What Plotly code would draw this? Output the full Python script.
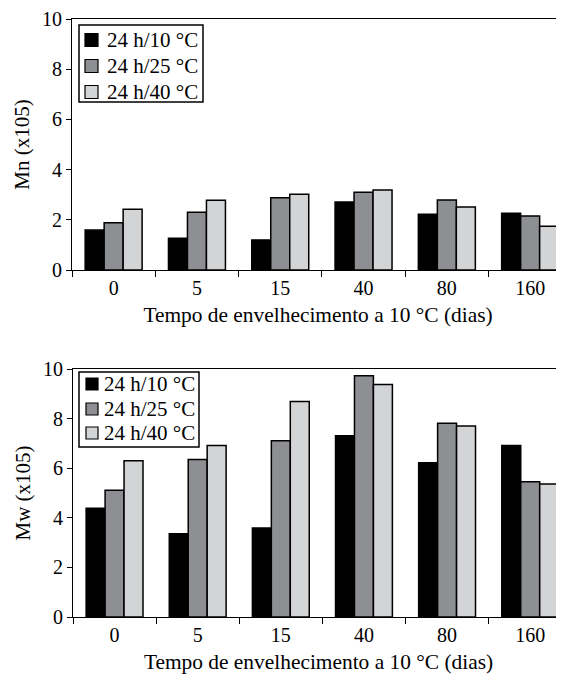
import plotly.graph_objects as go

categories = ["0", "5", "15", "40", "80", "160"]
series_names = ["24 h/10 °C", "24 h/25 °C", "24 h/40 °C"]
mn_10 = [1.59, 1.26, 1.20, 2.71, 2.22, 2.26]
mn_25 = [1.88, 2.30, 2.88, 3.10, 2.79, 2.15]
mn_40 = [2.42, 2.78, 3.02, 3.19, 2.51, 1.74]
mw_10 = [4.39, 3.36, 3.59, 7.31, 6.22, 6.92]
mw_25 = [5.11, 6.35, 7.11, 9.73, 7.81, 5.45]
mw_40 = [6.30, 6.92, 8.69, 9.37, 7.70, 5.36]
colors = ["#000000", "#8e8f93", "#d3d4d6"]
x_title = "Tempo de envelhecimento a 10 °C (dias)"
y_titles = ["Mn (x105)", "Mw (x105)"]

FONT = "Liberation Serif, Times New Roman, serif"
OFF = 8                      # page body margin of the browser
W, H = 564 - OFF, 676 - OFF
T, B = 19 - OFF, 59
PH = H - T - B

def fx(p):
    return (p - OFF) / W

def fy(p):
    return (H - B - (p - OFF)) / PH

fig = go.Figure()
for name, vals, c in zip(series_names, [mn_10, mn_25, mn_40], colors):
    fig.add_trace(go.Bar(x=categories, y=vals, name=name, showlegend=False,
                         marker=dict(color=c, line=dict(color="black", width=1.5)),
                         xaxis="x", yaxis="y"))
for name, vals, c in zip(series_names, [mw_10, mw_25, mw_40], colors):
    fig.add_trace(go.Bar(x=categories, y=vals, name=name, showlegend=False,
                         marker=dict(color=c, line=dict(color="black", width=1.5)),
                         xaxis="x2", yaxis="y2"))

xr = [-0.5, -0.5 + (564 - 72) / 83.3]
axis_common = dict(showgrid=False, zeroline=False, showline=True, linecolor="black", linewidth=1.2,
                   ticks="outside", tickcolor="black", tickfont=dict(family=FONT, size=20, color="black"))
xt = dict(text=x_title, font=dict(family=FONT, size=21.4), standoff=8)

fig.update_layout(
    width=W, height=H,
    margin=dict(l=0, r=0, t=T, b=B),
    paper_bgcolor="white", plot_bgcolor="white",
    barmode="group", bargap=0.316, bargroupgap=0,
    font=dict(family=FONT, size=20, color="black"),
    showlegend=False,
    xaxis=dict(domain=[fx(72), 1], range=xr, type="category", tickson="boundaries", ticklen=6, mirror=True,
               anchor="y", title=xt, **axis_common),
    yaxis=dict(domain=[fy(270), fy(19)], range=[0, 10], dtick=2, ticklen=5, anchor="x",
               title=dict(text=y_titles[0], font=dict(family=FONT, size=21), standoff=6), **axis_common),
    xaxis2=dict(domain=[fx(73), 1], range=xr, type="category", tickson="boundaries", ticklen=6, mirror=True,
                anchor="y2", title=xt, **axis_common),
    yaxis2=dict(domain=[fy(617), fy(369)], range=[0, 10], dtick=2, ticklen=5, anchor="x2",
                title=dict(text=y_titles[1], font=dict(family=FONT, size=21), standoff=6), **axis_common),
)

# legend boxes (drawn in page pixel positions of the reference)
legends = [
    dict(box=(79, 25, 203, 102), sw=(85, 98), tx=105, rows=[40, 66, 92]),
    dict(box=(79, 372, 199, 447), sw=(86, 98), tx=102, rows=[384, 409, 433]),
]
shapes, annotations = [], []
for lg in legends:
    x0, y0, x1, y1 = lg["box"]
    shapes.append(dict(type="rect", xref="paper", yref="paper", x0=fx(x0), x1=fx(x1), y0=fy(y1), y1=fy(y0),
                       line=dict(color="black", width=1.5), fillcolor="white", layer="above"))
    s0, s1 = lg["sw"]
    half = (s1 - s0) / 2
    for name, c, r in zip(series_names, colors, lg["rows"]):
        shapes.append(dict(type="rect", xref="paper", yref="paper", x0=fx(s0), x1=fx(s1),
                           y0=fy(r + half), y1=fy(r - half),
                           line=dict(color="black", width=1.2), fillcolor=c, layer="above"))
        annotations.append(dict(text=name, xref="paper", yref="paper", x=fx(lg["tx"]), y=fy(r),
                                xanchor="left", yanchor="middle", showarrow=False,
                                font=dict(family=FONT, size=21, color="black")))
fig.update_layout(shapes=shapes, annotations=annotations)

fig.write_html("out.html")
